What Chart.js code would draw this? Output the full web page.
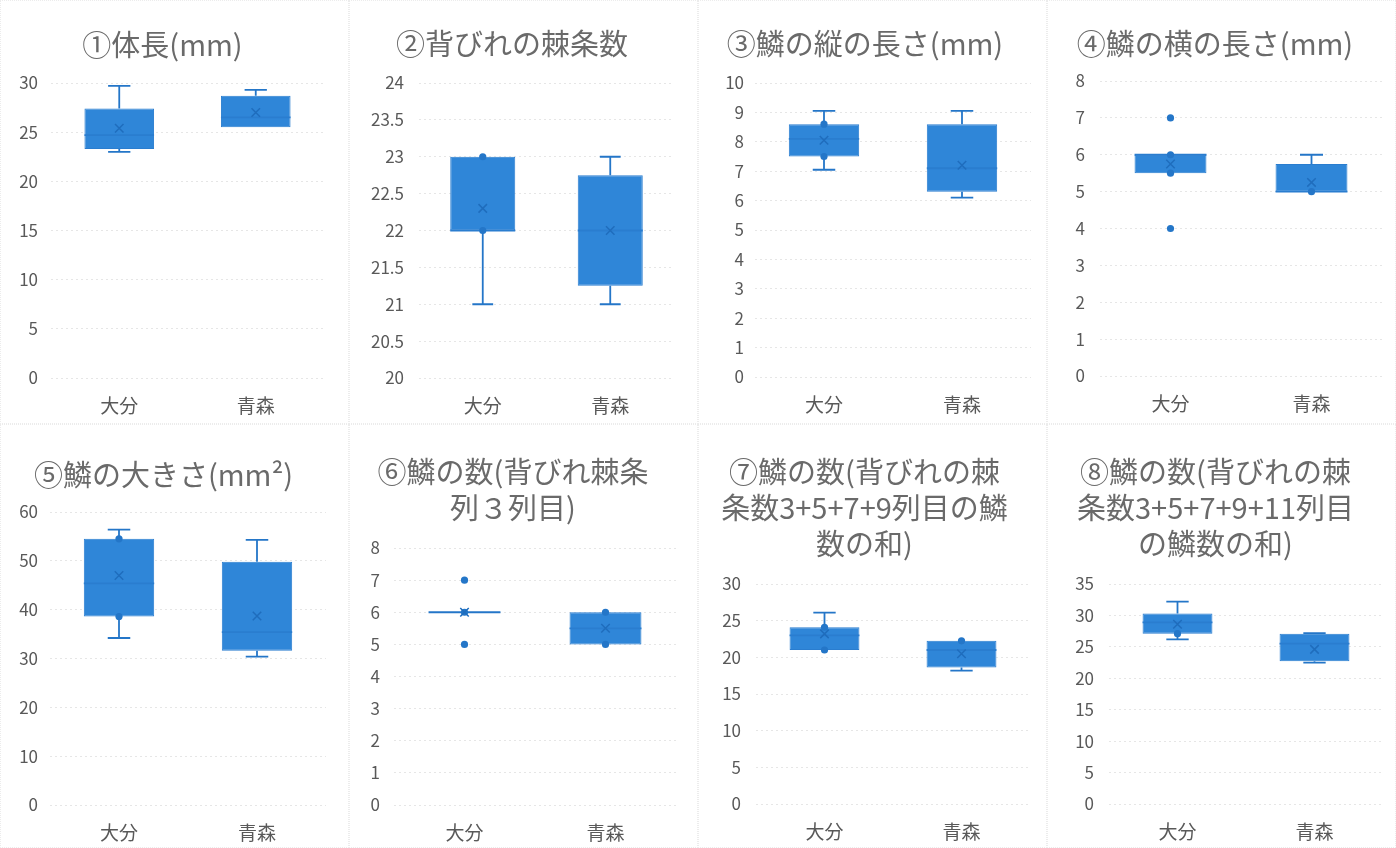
<!DOCTYPE html>
<html lang="ja">
<head>
<meta charset="utf-8">
<title>鱗と体長の比較（大分・青森）</title>
<script src="https://cdn.jsdelivr.net/npm/chart.js@4/dist/chart.umd.min.js"></script>
<style>
  html, body { margin: 0; padding: 0; background: #ffffff; }
  #board { position: relative; width: 1396px; height: 848px; }
  .panel { position: absolute; width: 349px; height: 424px; box-sizing: border-box;
           border: 1px dotted #ececec; }
  .panel canvas { position: absolute; left: 0; top: 0; }
</style>
</head>
<body>
<div id="board"></div>
<script>
// 産地
const groups = ['大分', '青森'];

// 各グラフの見出し
const titles = [
  '①体長(mm)',
  '②背びれの棘条数',
  '③鱗の縦の長さ(mm)',
  '④鱗の横の長さ(mm)',
  '⑤鱗の大きさ(mm²)',
  ['⑥鱗の数(背びれ棘条', '列３列目)'],
  ['⑦鱗の数(背びれの棘', '条数3+5+7+9列目の鱗', '数の和)'],
  ['⑧鱗の数(背びれの棘', '条数3+5+7+9+11列目', 'の鱗数の和)']
];

// 縦軸の範囲と目盛り間隔
const axisMin  = [0, 20, 0, 0, 0, 0, 0, 0];
const axisMax  = [30, 24, 10, 8, 60, 8, 30, 35];
const axisStep = [5, 0.5, 1, 1, 10, 1, 5, 5];

// 箱ひげ図の統計量 [大分, 青森]
const minVals = [[23.0, 25.5], [21, 21], [7.05, 6.1], [5.5, 5.0], [34.2, 30.4], [6, 5], [21, 18.2], [26.2, 22.5]];
const q1Vals  = [[23.3, 25.5], [22, 21.25], [7.5, 6.3], [5.5, 5.0], [38.6, 31.6], [6, 5], [21, 18.6], [27.1, 22.7]];
const medVals = [[24.7, 26.5], [22, 22], [8.1, 7.1], [6.0, 5.0], [45.4, 35.4], [6, 5.5], [23, 21], [28.9, 25.5]];
const q3Vals  = [[27.4, 28.7], [23, 22.75], [8.6, 8.6], [6.0, 5.75], [54.5, 49.8], [6, 6], [24.1, 22.25], [30.3, 27.1]];
const maxVals = [[29.7, 29.3], [23, 23], [9.05, 9.05], [6.0, 6.0], [56.4, 54.3], [6, 6], [26.1, 22.25], [32.2, 27.2]];
const meanVals = [[25.4, 27.0], [22.3, 22.0], [8.05, 7.2], [5.75, 5.25], [47.0, 38.7], [6, 5.5], [23.2, 20.5], [28.6, 24.6]];

// 個別に表示する値（内側の点・外れ値）
const pointVals = [
  [[], []],
  [[22, 23], []],
  [[7.5, 8.6], []],
  [[4, 5.5, 6, 7], [5]],
  [[38.6, 54.5], []],
  [[5, 6, 7], [5, 6]],
  [[21, 24.1], [22.25]],
  [[27.1], []]
];

// ---- 描画設定 ----
const PANEL_W = 349, PANEL_H = 424;
const FILL = '#2f86d8';
const LINE = '#2476c8';
const EDGE = '#2a7dcf';
const MARK = '#1f6dbd';
const FONT = '"Noto Sans CJK JP", "Noto Sans", sans-serif';

// 描画領域: [左, 右, 上, 下]（パネル内の位置）
const areas = [
  [50, 323, 82, 377],
  [69, 324, 82, 377],
  [56, 332, 82, 376],
  [52, 334, 80, 375],
  [49, 325, 87, 380],
  [44, 326, 123, 380],
  [57, 331, 159, 379],
  [61, 335, 159, 379]
];
const labelGap = [13, 15, 11, 15, 12, 14, 15, 15];
const titleTop = [26, 25, 25, 25, 32, 29, 29, 29];

// ひげ・中央値の線を軸の座標変換で描くプラグイン
const boxLines = {
  id: 'boxLines',
  beforeDatasetsDraw(chart) {
    const p = chart.options.plugins.boxLines.panel;
    const y = chart.scales.y;
    const meta = chart.getDatasetMeta(0);
    const ctx = chart.ctx;
    ctx.save();
    ctx.strokeStyle = LINE;
    ctx.lineWidth = 1.8;
    meta.data.forEach((bar, i) => {
      const cx = bar.x;
      const half = bar.width * 0.16;
      [[q3Vals[p][i], maxVals[p][i]], [q1Vals[p][i], minVals[p][i]]].forEach(([from, to]) => {
        if (to === from) return;
        const y0 = y.getPixelForValue(from), y1 = y.getPixelForValue(to);
        ctx.beginPath();
        ctx.moveTo(cx, y0); ctx.lineTo(cx, y1);
        ctx.moveTo(cx - half, y1); ctx.lineTo(cx + half, y1);
        ctx.stroke();
      });
    });
    ctx.restore();
  },
  afterDatasetDraw(chart, args) {
    if (args.index !== 0) return;
    const p = chart.options.plugins.boxLines.panel;
    const y = chart.scales.y;
    const ctx = chart.ctx;
    ctx.save();
    ctx.lineWidth = 1.8;
    args.meta.data.forEach((bar, i) => {
      const flat = q1Vals[p][i] === q3Vals[p][i];
      ctx.strokeStyle = flat ? LINE : EDGE;
      const py = y.getPixelForValue(medVals[p][i]);
      ctx.beginPath();
      ctx.moveTo(bar.x - bar.width / 2, py);
      ctx.lineTo(bar.x + bar.width / 2, py);
      ctx.stroke();
    });
    ctx.restore();
  }
};

const board = document.getElementById('board');

titles.forEach((title, p) => {
  const col = p % 4, row = Math.floor(p / 4);
  const div = document.createElement('div');
  div.className = 'panel';
  div.style.left = (col * PANEL_W) + 'px';
  div.style.top = (row * PANEL_H) + 'px';
  const canvas = document.createElement('canvas');
  canvas.width = PANEL_W;
  canvas.height = PANEL_H;
  div.appendChild(canvas);
  board.appendChild(div);

  const [L, R, T, B] = areas[p];
  const lines = Array.isArray(title) ? title.length : 1;
  const lineH = 36;
  const tTop = titleTop[p];
  const tBottom = T - tTop - lines * lineH;

  const points = [];
  groups.forEach((g, i) => pointVals[p][i].forEach(v => points.push({ x: g, y: v })));

  new Chart(canvas, {
    type: 'bar',
    data: {
      labels: groups,
      datasets: [
        {
          data: groups.map((g, i) => [q1Vals[p][i], q3Vals[p][i]]),
          backgroundColor: FILL,
          borderColor: EDGE,
          borderWidth: 1,
          borderSkipped: false,
          categoryPercentage: 0.51,
          barPercentage: 1.0,
          grouped: false,
          order: 3
        },
        {
          type: 'scatter',
          data: points,
          pointStyle: 'circle',
          pointRadius: 3.6,
          backgroundColor: LINE,
          borderWidth: 0,
          order: 2
        },
        {
          type: 'scatter',
          data: groups.map((g, i) => ({ x: g, y: meanVals[p][i] })),
          pointStyle: 'crossRot',
          pointRadius: 6,
          borderColor: MARK,
          borderWidth: 1.5,
          order: 1
        }
      ]
    },
    options: {
      responsive: false,
      animation: false,
      events: [],
      layout: { padding: { left: 0, right: PANEL_W - R, top: 0, bottom: 0 } },
      plugins: {
        legend: { display: false },
        tooltip: { enabled: false },
        title: {
          display: true,
          text: title,
          color: '#6a6a6a',
          font: { family: FONT, size: 29, weight: 'normal', lineHeight: lineH / 29 },
          padding: { top: tTop, bottom: tBottom }
        },
        boxLines: { panel: p }
      },
      scales: {
        x: {
          type: 'category',
          offset: true,
          grid: { display: false, drawTicks: false },
          border: { display: false },
          ticks: { color: '#595959', font: { family: FONT, size: 19 }, padding: 16 },
          afterFit(scale) { scale.height = PANEL_H - B; }
        },
        y: {
          type: 'linear',
          min: axisMin[p],
          max: axisMax[p],
          grid: { color: '#e6e6e6', lineWidth: 1, drawTicks: false },
          border: { display: false, dash: [2, 3] },
          ticks: {
            stepSize: axisStep[p],
            color: '#595959',
            font: { family: FONT, size: 17 },
            padding: labelGap[p],
            callback: v => String(Number(v.toFixed(2)))
          },
          afterFit(scale) { scale.width = L; }
        }
      }
    },
    plugins: [boxLines]
  });
});
</script>
</body>
</html>
